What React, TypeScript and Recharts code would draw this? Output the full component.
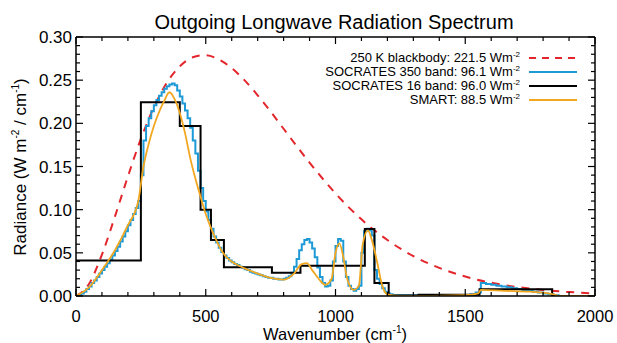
import { LineChart, Line, XAxis, YAxis } from "recharts";

const FONT = "'Liberation Sans', Arial, Helvetica, sans-serif";

// 250 K blackbody (dashed red)
const bbWn = [0, 50, 100, 150, 200, 250, 300, 350, 400, 450, 500, 550, 600, 650, 700, 750, 800, 850, 900, 950, 1000, 1100, 1200, 1300, 1400, 1500, 1600, 1700, 1800, 1900, 2000];
const bbRad = [0, 0.014, 0.048, 0.092, 0.1385, 0.182, 0.2186, 0.247, 0.266, 0.2765, 0.279, 0.274, 0.264, 0.2497, 0.2325, 0.2136, 0.1937, 0.1738, 0.1545, 0.1361, 0.1188, 0.0888, 0.0648, 0.0463, 0.0325, 0.0225, 0.0154, 0.0104, 0.0069, 0.0046, 0.003];

// SOCRATES 350 band (blue, stepped)
const s350Wn = [
  0, 10, 20, 30, 40, 50, 60, 70, 80, 90,
  100, 110, 120, 130, 140, 150, 160, 170, 180, 190,
  200, 210, 220, 230, 240, 250, 260, 270, 280, 290,
  300, 310, 320, 330, 340, 350, 360, 370, 380, 390,
  400, 410, 420, 430, 440, 450, 460, 470, 480, 490,
  500, 510, 520, 530, 540, 550, 560, 570, 580, 590,
  600, 610, 620, 630, 640, 650, 660, 670, 680, 690,
  700, 710, 720, 730, 740, 750, 760, 770, 780, 790,
  800, 810, 820, 830, 840, 850, 860, 870, 880, 890,
  900, 910, 920, 930, 940, 950, 960, 970, 980, 990,
  1000, 1010, 1020, 1030, 1040, 1050, 1060, 1070, 1080, 1090,
  1100, 1110, 1120, 1130, 1140, 1150, 1160, 1170, 1180, 1190,
  1200, 1210, 1220,
  1240, 1260, 1280, 1300, 1320, 1340, 1360, 1380, 1400, 1420, 1440, 1460, 1480, 1500,
  1520, 1540, 1560, 1580, 1600, 1620, 1640, 1660, 1680, 1700, 1720, 1740, 1760, 1780, 1800, 1820, 1840,
  1860, 1880, 1900, 1920, 1940, 1960, 1980, 2000,
];
const s350Rad = [
  0, 0.001, 0.003, 0.005, 0.008, 0.011, 0.015, 0.018, 0.022, 0.026,
  0.03, 0.034, 0.038, 0.042, 0.047, 0.052, 0.057, 0.063, 0.069, 0.075,
  0.082, 0.088, 0.095, 0.102, 0.11, 0.14, 0.18, 0.197, 0.206, 0.214,
  0.221, 0.227, 0.232, 0.236, 0.24, 0.243, 0.245, 0.246, 0.244, 0.238,
  0.231, 0.223, 0.215, 0.206, 0.195, 0.18, 0.165, 0.145, 0.125, 0.11,
  0.098, 0.088, 0.078, 0.069, 0.062, 0.056, 0.051, 0.047, 0.044, 0.041,
  0.039, 0.037, 0.036, 0.034, 0.033, 0.031, 0.03, 0.028, 0.027, 0.026,
  0.025, 0.024, 0.023, 0.022, 0.021, 0.021, 0.02, 0.02, 0.019, 0.019,
  0.02, 0.021, 0.023, 0.027, 0.034, 0.043, 0.053, 0.06, 0.065, 0.066,
  0.062, 0.055, 0.045, 0.033, 0.022, 0.015, 0.011, 0.012, 0.018, 0.04,
  0.058, 0.066, 0.064, 0.04, 0.022, 0.012, 0.008, 0.006, 0.008, 0.012,
  0.05, 0.075, 0.078, 0.076, 0.07, 0.03, 0.02, 0.014, 0.009, 0.005,
  0.003, 0.002, 0.001,
  0.001, 0.001, 0.001, 0.001, 0.001, 0.001, 0.001, 0.001, 0.001, 0.001, 0.001, 0.001, 0.001, 0.001,
  0.002, 0.004, 0.015, 0.014, 0.013, 0.012, 0.011, 0.01, 0.009, 0.008, 0.007, 0.006, 0.005, 0.004, 0.003, 0.002, 0.001,
  0, 0, 0, 0, 0, 0, 0, 0,
];

// SOCRATES 16 band (black, bands)
const s16Wn = [0, 250, 400, 480, 520, 570, 755, 865, 1113, 1150, 1205, 1320, 1555, 1835, 2000];
const s16Rad = [0.041, 0.2245, 0.197, 0.1, 0.065, 0.0333, 0.027, 0.035, 0.0775, 0.015, 0.0005, 0.0015, 0.0078, 0, 0];

// SMART (orange)
const smartWn = [0, 50, 100, 150, 200, 240, 260, 280, 300, 320, 340, 360, 380, 400, 420, 440, 460, 480, 500, 520, 540, 560, 580, 600, 650, 700, 750, 800, 840, 870, 890, 910, 935, 960, 985, 1000, 1015, 1030, 1045, 1070, 1090, 1105, 1125, 1140, 1160, 1180, 1200, 1250, 1500, 1550, 1560, 1650, 1750, 1840, 1860, 2000];
const smartRad = [0, 0.01, 0.03, 0.053, 0.082, 0.11, 0.15, 0.176, 0.197, 0.213, 0.226, 0.236, 0.228, 0.212, 0.189, 0.16, 0.136, 0.115, 0.095, 0.079, 0.065, 0.053, 0.045, 0.04, 0.032, 0.026, 0.021, 0.019, 0.026, 0.037, 0.038, 0.03, 0.02, 0.013, 0.02, 0.05, 0.061, 0.045, 0.02, 0.007, 0.012, 0.06, 0.076, 0.065, 0.04, 0.012, 0.002, 0, 0.001, 0.003, 0.007, 0.006, 0.005, 0.002, 0, 0];

const xTicks = [0, 100, 200, 300, 400, 500, 600, 700, 800, 900, 1000, 1100, 1200, 1300, 1400, 1500, 1600, 1700, 1800, 1900, 2000];
const yTicks = [0, 0.01, 0.02, 0.03, 0.04, 0.05, 0.06, 0.07, 0.08, 0.09, 0.1, 0.11, 0.12, 0.13, 0.14, 0.15, 0.16, 0.17, 0.18, 0.19, 0.2, 0.21, 0.22, 0.23, 0.24, 0.25, 0.26, 0.27, 0.28, 0.29, 0.3];

const legendItems = [
  { label: "250 K blackbody: 221.5 Wm", color: "#e3262b", dash: "7 6" },
  { label: "SOCRATES 350 band: 96.1 Wm", color: "#1d9ad6", dash: undefined },
  { label: "SOCRATES 16 band: 96.0 Wm", color: "#000000", dash: undefined },
  { label: "SMART: 88.5 Wm", color: "#f2a720", dash: undefined },
];

const toPts = (xs: number[], ys: number[]) => xs.map((x, i) => ({ x, y: ys[i] }));

const isMajorX = (v: number) => v % 500 === 0;
const isMajorY = (v: number) => Math.round(v * 100) % 5 === 0;

function BottomTick(props: any) {
  const { x, y, payload } = props;
  const v = payload.value;
  const major = isMajorX(v);
  return (
    <g>
      <line x1={x} y1={y} x2={x} y2={y - (major ? 7 : 4)} stroke="#000" strokeWidth={1.2} />
      {major && (
        <text x={x} y={y + 26} textAnchor="middle" fontSize={16.5} fontFamily={FONT} fill="#000">
          {v}
        </text>
      )}
    </g>
  );
}

function TopTick(props: any) {
  const { x, y, payload } = props;
  const major = isMajorX(payload.value);
  return <line x1={x} y1={y} x2={x} y2={y + (major ? 7 : 4)} stroke="#000" strokeWidth={1.2} />;
}

function LeftTick(props: any) {
  const { x, y, payload } = props;
  const v = payload.value;
  const major = isMajorY(v);
  return (
    <g>
      <line x1={x} y1={y} x2={x + (major ? 7 : 4)} y2={y} stroke="#000" strokeWidth={1.2} />
      {major && (
        <text x={x - 4} y={y + 6} textAnchor="end" fontSize={17} fontFamily={FONT} fill="#000">
          {v.toFixed(2)}
        </text>
      )}
    </g>
  );
}

function RightTick(props: any) {
  const { x, y, payload } = props;
  const major = isMajorY(payload.value);
  return <line x1={x} y1={y} x2={x - (major ? 7 : 4)} y2={y} stroke="#000" strokeWidth={1.2} />;
}

export default function App() {
  const axisLine = { stroke: "#000", strokeWidth: 1.5 };
  return (
    <div style={{ position: "absolute", left: 0, top: 0, width: 617, height: 343, background: "#fff" }}>
      <LineChart width={617} height={343} margin={{ top: 36, right: 21, bottom: 0, left: 0 }}>
        <XAxis
          xAxisId="b"
          dataKey="x"
          type="number"
          domain={[0, 2000]}
          allowDataOverflow
          ticks={xTicks}
          interval={0}
          height={47}
          tickSize={0}
          tickMargin={0}
          tickLine={false}
          axisLine={axisLine}
          tick={<BottomTick />}
        />
        <XAxis
          xAxisId="t"
          orientation="top"
          dataKey="x"
          type="number"
          domain={[0, 2000]}
          allowDataOverflow
          ticks={xTicks}
          interval={0}
          height={1}
          tickSize={0}
          tickMargin={0}
          tickLine={false}
          axisLine={axisLine}
          tick={<TopTick />}
        />
        <YAxis
          yAxisId="l"
          type="number"
          domain={[0, 0.3]}
          allowDataOverflow
          ticks={yTicks}
          interval={0}
          width={76}
          tickSize={0}
          tickMargin={0}
          tickLine={false}
          axisLine={axisLine}
          tick={<LeftTick />}
        />
        <YAxis
          yAxisId="r"
          orientation="right"
          type="number"
          domain={[0, 0.3]}
          allowDataOverflow
          ticks={yTicks}
          interval={0}
          width={1}
          tickSize={0}
          tickMargin={0}
          tickLine={false}
          axisLine={axisLine}
          tick={<RightTick />}
        />
        <Line xAxisId="b" yAxisId="l" data={toPts(bbWn, bbRad)} dataKey="y" type="monotone" stroke="#e3262b" strokeWidth={2} strokeDasharray="8 7" dot={false} activeDot={false} isAnimationActive={false} />
        <Line xAxisId="b" yAxisId="l" data={toPts(s350Wn, s350Rad)} dataKey="y" type="stepAfter" stroke="#1d9ad6" strokeWidth={2} dot={false} activeDot={false} isAnimationActive={false} />
        <Line xAxisId="b" yAxisId="l" data={toPts(s16Wn, s16Rad)} dataKey="y" type="stepAfter" stroke="#000" strokeWidth={2} dot={false} activeDot={false} isAnimationActive={false} />
        <Line xAxisId="b" yAxisId="l" data={toPts(smartWn, smartRad)} dataKey="y" type="monotone" stroke="#f2a720" strokeWidth={1.8} dot={false} activeDot={false} isAnimationActive={false} />
      </LineChart>
      <svg width={617} height={343} style={{ position: "absolute", left: 0, top: 0, pointerEvents: "none" }}>
        <text x={334} y={29} textAnchor="middle" fontSize={20} fontFamily={FONT} fill="#000">
          Outgoing Longwave Radiation Spectrum
        </text>
        <text x={335} y={340} textAnchor="middle" fontSize={16.5} fontFamily={FONT} fill="#000">
          Wavenumber (cm<tspan dy={-7} fontSize={10}>-1</tspan><tspan dy={7}>)</tspan>
        </text>
        <text transform="translate(26,167) rotate(-90)" textAnchor="middle" fontSize={17} fontFamily={FONT} fill="#000">
          Radiance (W m<tspan dy={-7} fontSize={10}>-2</tspan><tspan dy={7}> / cm</tspan><tspan dy={-7} fontSize={10}>-1</tspan><tspan dy={7}>)</tspan>
        </text>
        {legendItems.map((it, i) => {
          const yy = 62 + i * 14;
          return (
            <g key={it.label}>
              <text x={520} y={yy} textAnchor="end" fontSize={13} fontFamily={FONT} fill="#000">
                {it.label}
                <tspan dy={-5} fontSize={8}>-2</tspan>
              </text>
              <line x1={529} x2={577} y1={yy - 4} y2={yy - 4} stroke={it.color} strokeWidth={2} strokeDasharray={it.dash} />
            </g>
          );
        })}
      </svg>
    </div>
  );
}
